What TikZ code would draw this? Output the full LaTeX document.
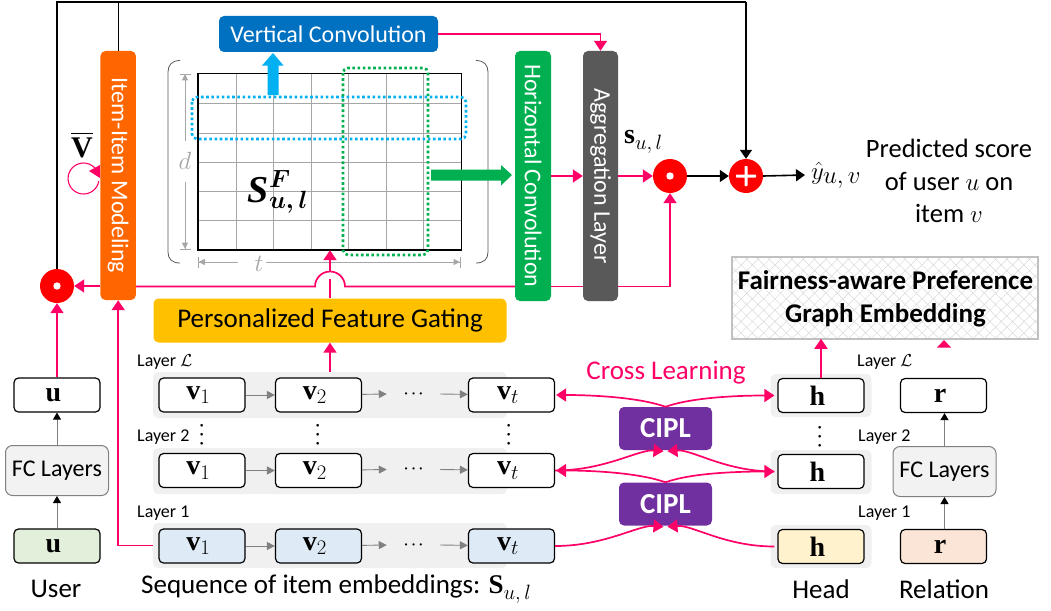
\documentclass[tikz,border=0pt]{standalone}
\usepackage[no-math]{fontspec}
\usepackage{amsmath}
\setmainfont{Carlito}
\newfontfamily\lbf{Liberation Serif}
\usetikzlibrary{arrows.meta,patterns.meta,calc}
\definecolor{pk}{HTML}{FF0066}
\definecolor{gy}{HTML}{A6A6A6}
\definecolor{cpurple}{HTML}{7030A0}
\definecolor{corange}{HTML}{FF6600}
\definecolor{cblue}{HTML}{0070C0}
\definecolor{cgreen}{HTML}{00B050}
\definecolor{cdark}{HTML}{595959}
\definecolor{cgold}{HTML}{FFC000}
\definecolor{csky}{HTML}{00B0F0}
\definecolor{cuser}{HTML}{E2EFDA}
\definecolor{citem}{HTML}{DEEAF6}
\definecolor{chead}{HTML}{FFF2CC}
\definecolor{crel}{HTML}{FBE5D6}
\newcommand{\fs}[1]{\fontsize{#1}{#1}\selectfont}
\newcommand{\bv}[1]{\mbox{\lbf\bfseries #1}}
\newcommand{\sbs}[2]{\mbox{\fs{#1}$#2$}}
\newcommand{\lft}{\kern-7pt}
\newcommand{\vdotsmark}{\rotatebox[origin=c]{90}{\fs{18}$\boldsymbol{\cdots}$}}
\tikzset{
  x=1pt,y=-1pt,
  plink/.style={draw=pk,line width=1.7pt,-{Triangle[length=10pt,width=13pt,fill=pk]}},
  plinkn/.style={draw=pk,line width=1.7pt},
  blink/.style={draw=black,line width=1.6pt,-{Triangle[length=9pt,width=12pt,fill=black]}},
  blinkn/.style={draw=black,line width=1.3pt},
  glink/.style={draw=gray,line width=1pt,-{Triangle[length=7pt,width=8pt,fill=black,color=black]}},
  slink/.style={draw=gray,line width=.9pt,-{Triangle[length=8pt,width=8pt,fill=gray]}},
  dimline/.style={draw=gy,line width=.8pt},
  barbox/.style={rounded corners=5pt,inner sep=0pt,text=white,font=\fs{24}},
  emb/.style={draw=black,line width=1.2pt,rounded corners=4.5pt,minimum width=86pt,minimum height=34pt,inner sep=0pt,fill=white,font=\fs{28}},
  fcbox/.style={draw=gray,line width=1pt,rounded corners=7pt,fill=black!5,minimum width=103pt,minimum height=50pt,inner sep=0pt,font=\fs{24}},
  bandbox/.style={fill=black!6,rounded corners=5pt,inner sep=0pt},
  cipl/.style={fill=cpurple,rounded corners=5pt,minimum width=93pt,minimum height=43pt,inner sep=0pt,text=white,font=\fs{29}\bfseries},
  opc/.style={circle,fill=red,minimum size=34pt,inner sep=0pt},
  lay/.style={font=\fs{18},inner sep=0pt,anchor=west},
  captext/.style={font=\fs{27},inner sep=0pt},
  dotsv/.style={inner sep=0pt},
  gridline/.style={draw=gy,line width=1pt},
}
\begin{document}
\begin{tikzpicture}
\useasboundingbox (0,0) rectangle (1051,610);
% bands
\node[bandbox,minimum width=354pt,minimum height=46pt] (b3) at (330,395) {};
\node[bandbox,minimum width=354pt,minimum height=46pt] (b2) at (330,471) {};
\node[bandbox,minimum width=354pt,minimum height=45pt] (b1) at (330,545.5) {};
\node[bandbox,minimum width=101pt,minimum height=43pt] (hb3) at (821,395.5) {};
\node[bandbox,minimum width=101pt,minimum height=44pt] (hb2) at (821,472) {};
\node[bandbox,minimum width=101pt,minimum height=43pt] (hb1) at (821,546.5) {};
% vertical bars
\node[barbox,fill=corange,minimum width=35.5pt,minimum height=249pt] (item) at (118.2,175.5) {\rotatebox[origin=c]{-90}{Item-Item Modeling}};
\node[barbox,fill=cgreen,minimum width=36pt,minimum height=250pt] (hor) at (533,176) {\rotatebox[origin=c]{-90}{Horizontal Convolution}};
\node[barbox,fill=cdark,minimum width=35pt,minimum height=250pt] (agg) at (600.5,176) {\rotatebox[origin=c]{-90}{Aggregation Layer}};
\node[barbox,fill=cblue,minimum width=219pt,minimum height=36pt] (vc) at (328.5,34) {Vertical Convolution};
\node[barbox,fill=cgold,text=black,minimum width=353pt,minimum height=44pt,font=\fs{27}] (gate) at (330,320.5) {Personalized Feature Gating};
% matrix
\node[draw=none,minimum width=263pt,minimum height=176.5pt,inner sep=0pt] (mat) at (329.5,161.7) {};
\foreach \gx in {236,273,311,348,386,423}{\draw[gridline] (\gx,73.5) -- (\gx,250);}
\foreach \gy in {103,133,162,191,220}{\draw[gridline] (198,\gy) -- (461,\gy);}
\draw[black,line width=1.4pt] (mat.north west) rectangle (mat.south east);
\draw[black!65,line width=.8pt] (180,60.5) .. controls (172,60.5) and (168,65) .. (168,72) -- (168,252) .. controls (168,259) and (172,263) .. (180,263);
\draw[black!65,line width=.8pt] (476,60.5) .. controls (484,60.5) and (488,65) .. (488,72) -- (488,252) .. controls (488,259) and (484,263) .. (476,263);
\node[inner sep=0pt,font=\fs{38}] (sf) at (278,192) {$\mbox{\lbf\bfseries\itshape S}_{\sbs{24}{\boldsymbol{u,l}}}^{\sbs{24}{\boldsymbol{F}}}$};
% dimensions
\node[inner sep=0pt,text=gy,font=\fs{26}] (dlab) at (185,161) {$d$};
\node[inner sep=0pt,text=gy,font=\fs{28}] (tlab) at (259,264) {$t$};
\draw[dimline,{Bar[width=11pt]Triangle[length=6pt,width=6pt,fill=gy]}-] (185,73.5) -- (dlab.north |- 0,141);
\draw[dimline,-{Triangle[length=6pt,width=6pt,fill=gy]Bar[width=11pt]}] (dlab.south |- 0,182) -- (185,249.5);
\draw[dimline,{Bar[width=11pt]Triangle[length=6pt,width=6pt,fill=gy]}-] (198,262) -- (238,262);
\draw[dimline,-{Triangle[length=6pt,width=6pt,fill=gy]Bar[width=11pt]}] (266,262) -- (460.5,262);
% dotted windows
\draw[csky,line width=2.6pt,dash pattern=on 2.6pt off 2.6pt,rounded corners=5pt] (192,97) rectangle (466,139);
\draw[cgreen,line width=2.6pt,dash pattern=on 2.6pt off 2.6pt,rounded corners=5pt] (343,68) rectangle (428,255);
% block arrows
\fill[csky] (267.5,95) -- (267.5,65.5) -- (262,65.5) -- (273,53) -- (283.5,65.5) -- (278.5,65.5) -- (278.5,95) -- cycle;
\fill[cgreen] (431,169.5) -- (501,169.5) -- (501,165) -- (512,175) -- (501,185.5) -- (501,180.5) -- (431,180.5) -- cycle;
% operators
\node[opc] (dotL) at (57,286) {};
\fill[white] (dotL) circle (3.7pt);
\node[opc] (dotR) at (670,176) {};
\fill[white] (dotR) circle (3.7pt);
\node[opc] (plus) at (746,176) {};
\fill[white,rounded corners=.6pt] (744.5,166) rectangle (747.5,186);
\fill[white,rounded corners=.6pt] (736,174.5) rectangle (756,177.5);
% output texts
\node[inner sep=0pt,font=\fs{28},anchor=west] (sul) at (624,142) {$\bv{s}_{\sbs{21}{u,l}}$};
\node[inner sep=0pt,anchor=west,font=\fs{32}] (yhat) at (811,175) {$\hat{y}_{\sbs{24}{u,v}}$};
\node[inner sep=0pt,font=\fs{26.5},align=center] (pred) at (949,181) {Predicted score\\[6pt]of user $u$ on\\[6pt]item $v$};
\node[inner sep=0pt,font=\fs{30}] (vbar) at (82,145) {$\overline{\bv{V}}$};
% top black lines
\coordinate (topA) at (57,2);
\coordinate (topB) at (746,2);
\draw[blinkn] (dotL.north) -- (topA) -- (topB);
\draw[blink] (topB) -- (plus.north);
\draw[blinkn] (item.north) -- (item.north |- topA);
\draw[blink] (dotR.east) -- (plus.west);
\draw[blink] (plus.east) -- ($(yhat.west)+(-6,0)$);
% pink links upper
\draw[plink] (item.west |- dotL) -- (dotL.east);
\coordinate (bL) at (315,286.5);
\coordinate (bR) at (345,286.5);
\draw[plinkn] (item.east |- bL) -- (bL) arc[start angle=180,end angle=0,radius=15pt] -- (hor.west |- bR);
\draw[plinkn] (hor.east |- bR) -- (agg.west |- bR);
\draw[plink] (agg.east |- bR) -| (dotR.south);
\coordinate (gapB) at (330,279);
\coordinate (gapT) at (330,271);
\draw[plinkn] (gate.north) -- (gapB);
\draw[plink] (gapT) -- (mat.south -| gapT);
\draw[plink] (vc.east) -- (agg.north |- vc.east) -- (agg.north);
\draw[plink] (hor.east |- agg) -- (agg.west);
\draw[plink] (agg.east) -- (dotR.west);
% self loop
\draw[pk,line width=1.1pt] (98.8,181.2) arc[start angle=-10,end angle=-330,radius=15.5pt];
\fill[pk] (100,165) -- (100,178) -- (89,171) -- cycle;
% user column
\node[emb] (u2) at (57,395) {\lft$\bv{u}$};
\node[fcbox] (fcU) at (57,470.5) {FC Layers};
\node[emb,fill=cuser] (u1) at (57,546) {\lft$\bv{u}$};
\draw[glink] (u1) -- (fcU);
\draw[glink] (fcU) -- (u2);
\draw[plink] (u2) -- (dotL);
\node[captext] (capU) at (56,589) {User};
% rows
\foreach \nm/\ry/\fl in {c/395/white,b/470.5/white,a/546/citem}{
  \node[emb,fill=\fl] (v1\nm) at (202,\ry) {\lft$\bv{v}_{\sbs{21}{1}}$};
  \node[emb,fill=\fl] (v2\nm) at (318.5,\ry) {\lft$\bv{v}_{\sbs{21}{2}}$};
  \node[emb,fill=\fl] (vt\nm) at (511.5,\ry) {\lft$\bv{v}_{\sbs{21}{t}}$};
  \node[inner sep=0pt,font=\fs{15}] (dd\nm) at (415,\ry-1) {$\boldsymbol{\cdots}$};
  \draw[slink] (v1\nm) -- (v2\nm);
  \draw[slink] (v2\nm) -- ($(dd\nm.west)+(-17,0)$);
  \draw[slink] ($(dd\nm.east)+(14,0)$) -- (vt\nm);
}
\node[lay] (l3) at (137,362) {Layer $\mathcal{L}$};
\node[lay] (l2) at (137,437) {Layer 2};
\node[lay] (l1) at (137,513) {Layer 1};
\node[dotsv] (vd1) at (202,433) {\vdotsmark};
\node[dotsv] (vd2) at (318,433) {\vdotsmark};
\node[dotsv] (vd3) at (509,433) {\vdotsmark};
\node[inner sep=0pt,font=\fs{27},anchor=west] (capS) at (141,589) {Sequence of item embeddings: $\bv{S}_{\sbs{21}{u,l}}$};
\draw[plink] (b3.north -| gate) -- (gate.south);
\draw[plink,rounded corners=0pt] (b1.west) -- (b1.west -| item) -- (item.south);
% head and relation
\node[emb,fill=white] (h3) at (821,395.5) {\lft$\bv{h}$};
\node[emb,fill=white] (h2) at (821,471.5) {\lft$\bv{h}$};
\node[emb,fill=chead] (h1) at (821,546.5) {\lft$\bv{h}$};
\node[emb] (r2) at (943.5,395.5) {\lft$\bv{r}$};
\node[fcbox] (fcR) at (944.5,471.5) {FC Layers};
\node[emb,fill=crel] (r1) at (943.5,546.5) {\lft$\bv{r}$};
\draw[glink] (r1.north -| fcR) -- (fcR.south);
\draw[glink] (fcR.north) -- (r2.south -| fcR);
\node[dotsv] (hd) at (820,435) {\vdotsmark};
\node[lay] (r3l) at (857,362) {Layer $\mathcal{L}$};
\node[lay] (r2l) at (858,437) {Layer 2};
\node[lay] (r1l) at (858,513) {Layer 1};
\node[captext] (capH) at (821,589) {Head};
\node[captext] (capR) at (944,589) {Relation};
% fairness
\node[draw=gy!70,line width=2pt,minimum width=306pt,minimum height=82pt,inner sep=0pt,
  pattern={Hatch[angle=45,distance=8pt,line width=.5pt]},pattern color=black!15] (fair) at (884.5,297.5) {};
\node[inner sep=0pt,font=\fs{27}\bfseries,align=center] (fairt) at ($(fair)+(1,1)$) {Fairness-aware Preference\\[6pt]Graph Embedding};
\draw[plink] (h3.north -| 821,0) -- (fair.south -| 821,0);
\fill[pk] (944,340) -- (951,347.5) -- (937,347.5) -- cycle;
% CIPL
\node[cipl] (c2) at (665.5,428.5) {CIPL};
\node[cipl] (c1) at (665.5,504) {CIPL};
\node[font=\fs{27},text=pk,inner sep=0pt] (cross) at (666,373) {Cross Learning};
\foreach \cc/\tgtL/\tgtR in {c2/vtc/h3,c1/vtb/h2}{
  \draw[plink] (\cc.north) .. controls +(-25,-9) and +(40,0) .. ($(\tgtL.east)+(1,0)$);
  \draw[plink] (\cc.north) .. controls +(25,-9) and +(-40,0) .. ($(\tgtR.west)+(-3,0)$);
}
\draw[plink] ($(vtb.east)+(0,0)$) .. controls +(50,0) and +(-25,-2) .. ($(c2.south)+(-2,1)$);
\draw[plink] ($(h2.west)+(-3,0)$) .. controls +(-50,0) and +(25,-2) .. ($(c2.south)+(2,1)$);
\draw[plink] (vta.east) .. controls +(50,0) and +(-25,-2) .. ($(c1.south)+(-2,1)$);
\draw[plink] ($(h1.west)+(-3,0)$) .. controls +(-50,0) and +(25,-2) .. ($(c1.south)+(2,1)$);
\end{tikzpicture}
\end{document}
